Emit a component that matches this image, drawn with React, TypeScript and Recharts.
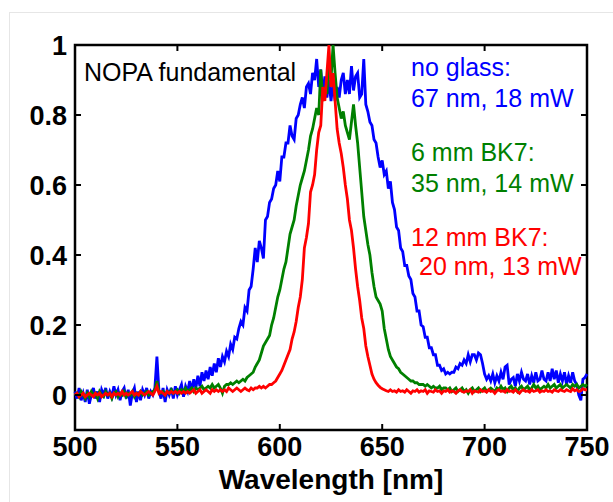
import { LineChart, Line, XAxis, YAxis, ReferenceArea } from "recharts";

// spectra sampled every 1 nm from 500 to 750 nm
const WL_START = 500;
const WL_END = 750;

// no glass: 67 nm, 18 mW
const noGlass = [
  0.01, -0.01, 0.02, -0.015, 0.005, -0.02, 0.015, -0.025, 0.0, 0.02,
  -0.01, 0.01, -0.02, 0.015, 0.0, 0.02, -0.01, 0.01, -0.005, 0.025,
  0.0, 0.015, -0.015, 0.01, 0.02, -0.01, 0.015, -0.03, 0.005, 0.02,
  -0.02, 0.01, -0.015, 0.015, 0.0, 0.02, -0.01, 0.01, 0.0, 0.02,
  0.11, 0.01, -0.01, 0.02, -0.02, 0.015, 0.0, 0.02, -0.01, 0.025,
  0.0, 0.015, 0.03, -0.005, 0.025, 0.01, 0.04, 0.01, 0.045, 0.02,
  0.055, 0.025, 0.065, 0.04, 0.07, 0.045, 0.08, 0.055, 0.09, 0.065,
  0.105, 0.08, 0.11, 0.095, 0.125, 0.11, 0.145, 0.13, 0.165, 0.16,
  0.19, 0.21, 0.2, 0.25, 0.24, 0.3, 0.31, 0.36, 0.42, 0.38,
  0.44, 0.42, 0.39, 0.5, 0.51, 0.55, 0.56, 0.59, 0.6, 0.64,
  0.61, 0.68, 0.68, 0.72, 0.72, 0.77, 0.74, 0.73, 0.79, 0.8,
  0.83, 0.85, 0.82, 0.88, 0.89, 0.86, 0.92, 0.9, 0.96, 0.88,
  0.93, 0.86, 0.91, 0.85, 0.9, 0.84, 0.89, 0.84, 0.88, 0.85,
  0.9, 0.92, 0.86, 0.9, 0.86, 0.94, 0.87, 0.91, 0.92, 0.85,
  0.86, 0.96, 0.83, 0.81, 0.78, 0.77, 0.73, 0.72, 0.68, 0.65,
  0.67, 0.63, 0.64, 0.59, 0.61, 0.55, 0.53, 0.48, 0.47, 0.42,
  0.41, 0.37, 0.37, 0.34, 0.33, 0.29, 0.28, 0.24, 0.24, 0.2,
  0.195, 0.165, 0.165, 0.135, 0.135, 0.115, 0.115, 0.085, 0.085, 0.07,
  0.075, 0.06, 0.065, 0.06, 0.065, 0.065, 0.08, 0.075, 0.09, 0.085,
  0.1, 0.09, 0.115, 0.095, 0.115, 0.115, 0.1, 0.12, 0.115, 0.09,
  0.06, 0.045, 0.055, 0.04, 0.06, 0.035, 0.055, 0.04, 0.065, 0.045,
  0.08, 0.085, 0.03, 0.045, 0.05, 0.025, 0.06, 0.04, 0.065, 0.045,
  0.04, 0.06, 0.03, 0.055, 0.035, 0.065, 0.04, 0.045, 0.07, 0.045,
  0.04, 0.065, 0.04, 0.075, 0.045, 0.07, 0.035, 0.06, 0.04, 0.065,
  0.03, 0.055, 0.035, 0.065, 0.04, 0.03, 0.0, -0.015, 0.045, 0.05,
  0.06,
];

// 6 mm BK7: 35 nm, 14 mW
const bk7_6mm = [
  0.0, 0.005, -0.005, 0.01, 0.0, -0.01, 0.005, -0.005, 0.01, 0.0,
  0.005, -0.01, 0.01, 0.0, -0.005, 0.01, 0.0, 0.005, -0.01, 0.005,
  0.01, -0.005, 0.005, 0.0, 0.01, -0.005, 0.005, 0.0, 0.01, -0.005,
  0.005, 0.0, 0.01, 0.0, 0.005, 0.01, 0.0, 0.005, 0.01, 0.015,
  0.04, 0.01, 0.005, 0.01, 0.0, 0.01, 0.005, 0.015, 0.005, 0.01,
  0.015, 0.005, 0.015, 0.01, 0.02, 0.01, 0.015, 0.02, 0.01, 0.02,
  0.015, 0.02, 0.025, 0.015, 0.02, 0.025, 0.02, 0.03, 0.02, 0.025,
  0.03, 0.02, 0.005, 0.025, 0.03, 0.03, 0.035, 0.03, 0.035, 0.04,
  0.035, 0.04, 0.045, 0.04, 0.05, 0.055, 0.06, 0.065, 0.08, 0.09,
  0.1, 0.12, 0.14, 0.15, 0.16, 0.17, 0.2, 0.22, 0.25, 0.28,
  0.3, 0.33, 0.36, 0.38, 0.42, 0.46, 0.48, 0.5, 0.54, 0.57,
  0.6, 0.62, 0.64, 0.67, 0.7, 0.74, 0.76, 0.79, 0.82, 0.8,
  0.93, 0.84, 0.88, 0.86, 0.95, 0.9, 1.0, 0.92, 0.85, 0.82,
  0.79, 0.81, 0.77, 0.75, 0.73, 0.78, 0.83, 0.77, 0.72, 0.65,
  0.58, 0.51, 0.47, 0.43, 0.4, 0.35, 0.31, 0.28, 0.27, 0.26,
  0.24, 0.19, 0.16, 0.13, 0.11, 0.1, 0.09, 0.08, 0.075, 0.065,
  0.06, 0.055, 0.05, 0.045, 0.04, 0.04, 0.035, 0.035, 0.03, 0.03,
  0.03, 0.025, 0.03, 0.025, 0.02, 0.025, 0.02, 0.02, 0.025, 0.015,
  0.02, 0.02, 0.015, 0.02, 0.01, 0.015, 0.02, 0.01, 0.015, 0.02,
  0.01, 0.015, 0.005, 0.015, 0.02, 0.01, 0.015, 0.02, 0.01, 0.015,
  0.02, 0.01, 0.015, 0.02, 0.015, 0.01, 0.02, 0.015, 0.025, 0.015,
  0.02, 0.01, 0.02, 0.025, 0.015, 0.02, 0.01, 0.02, 0.025, 0.015,
  0.02, 0.025, 0.015, 0.02, 0.03, 0.02, 0.025, 0.015, 0.02, 0.025,
  0.02, 0.03, 0.02, 0.025, 0.03, 0.02, 0.025, 0.03, 0.02, 0.025,
  0.03, 0.025, 0.02, 0.03, 0.025, 0.03, 0.02, 0.025, 0.03, 0.025,
  0.03,
];

// 12 mm BK7: 20 nm, 13 mW
const bk7_12mm = [
  0.0, 0.005, -0.005, 0.0, 0.005, -0.005, 0.0, 0.005, 0.0, -0.005,
  0.005, 0.0, 0.005, -0.005, 0.0, 0.005, 0.0, 0.005, -0.005, 0.005,
  0.0, 0.005, 0.0, 0.01, 0.0, 0.005, 0.0, 0.005, 0.01, 0.0,
  0.005, 0.0, 0.01, 0.005, 0.0, 0.005, 0.01, 0.005, 0.0, 0.01,
  0.025, 0.005, 0.01, 0.005, 0.0, 0.01, 0.005, 0.01, 0.005, 0.01,
  0.005, 0.01, 0.005, 0.01, 0.005, 0.01, 0.005, 0.01, 0.015, 0.005,
  0.01, 0.015, 0.005, 0.01, 0.015, 0.01, 0.005, 0.015, 0.01, 0.015,
  0.01, 0.015, 0.01, 0.015, 0.01, 0.02, 0.015, 0.01, 0.015, 0.02,
  0.015, 0.01, 0.015, 0.02, 0.015, 0.012, 0.02, 0.015, 0.02, 0.02,
  0.025, 0.02, 0.025, 0.02, 0.025, 0.03, 0.03, 0.035, 0.04, 0.05,
  0.06, 0.07, 0.085, 0.1, 0.115, 0.13, 0.16, 0.18, 0.21, 0.25,
  0.28, 0.33, 0.42, 0.45, 0.49, 0.58, 0.6, 0.63, 0.7, 0.75,
  0.77, 0.88, 0.84, 0.92, 1.0, 0.88, 0.92, 0.84, 0.76, 0.72,
  0.69, 0.65, 0.6, 0.56, 0.5, 0.47, 0.42, 0.36, 0.31, 0.27,
  0.22, 0.19, 0.14, 0.11, 0.085, 0.06, 0.045, 0.035, 0.028, 0.022,
  0.018, 0.015, 0.012, 0.01, 0.015, 0.01, 0.012, 0.008, 0.015, 0.01,
  0.012, 0.008, 0.015, 0.01, 0.005, 0.012, 0.01, 0.015, 0.008, 0.012,
  0.01, 0.015, 0.005, 0.012, 0.01, 0.008, 0.015, 0.01, 0.012, 0.005,
  0.012, 0.01, 0.015, 0.008, 0.012, 0.01, 0.005, 0.012, 0.015, 0.01,
  0.008, 0.012, 0.01, 0.015, 0.005, 0.012, 0.01, 0.008, 0.015, 0.01,
  0.012, 0.008, 0.015, 0.01, 0.012, 0.005, 0.012, 0.015, 0.01, 0.012,
  0.008, 0.015, 0.01, 0.012, 0.008, 0.015, 0.01, 0.005, 0.012, 0.015,
  0.01, 0.012, 0.008, 0.015, 0.01, 0.012, 0.015, 0.008, 0.012, 0.01,
  0.015, 0.01, 0.012, 0.008, 0.015, 0.012, 0.01, 0.015, 0.012, 0.01,
  0.015, 0.012, 0.01, 0.018, 0.012, 0.015, 0.01, 0.012, 0.018, 0.015,
  0.015,
];

const xTicks = [500, 550, 600, 650, 700, 750];
const yTicks = [0, 0.2, 0.4, 0.6, 0.8, 1];

const rows = noGlass.map((v, i) => ({
  wl: WL_START + i,
  noGlass: v,
  bk7_6mm: bk7_6mm[i],
  bk7_12mm: bk7_12mm[i],
}));

const W = 613;
const H = 502;
const PLOT_LEFT = 75;
const PLOT_RIGHT = 587;
const PLOT_TOP = 45;
const PLOT_BOTTOM = 430;
const TICK_LEN = 6;
const LINE_W = 2.8;
const FONT = "'Liberation Sans', Arial, Helvetica, sans-serif";

const BLUE = "#0000ff";
const GREEN = "#008000";
const RED = "#ff0000";

function XTick({ x, payload }: any) {
  return (
    <g>
      <line x1={x} x2={x} y1={PLOT_BOTTOM} y2={PLOT_BOTTOM - TICK_LEN} stroke="#000" strokeWidth={2} />
      <line x1={x} x2={x} y1={PLOT_TOP} y2={PLOT_TOP + TICK_LEN} stroke="#000" strokeWidth={2} />
      <text
        x={x}
        y={PLOT_BOTTOM + 26}
        textAnchor="middle"
        fontFamily={FONT}
        fontWeight="bold"
        fontSize={27}
        fill="#000"
      >
        {payload.value}
      </text>
    </g>
  );
}

function YTick({ y, payload }: any) {
  return (
    <g>
      <line x1={PLOT_LEFT} x2={PLOT_LEFT + TICK_LEN} y1={y} y2={y} stroke="#000" strokeWidth={2} />
      <line x1={PLOT_RIGHT} x2={PLOT_RIGHT - TICK_LEN} y1={y} y2={y} stroke="#000" strokeWidth={2} />
      <text
        x={PLOT_LEFT - 8}
        y={y + 9.5}
        textAnchor="end"
        fontFamily={FONT}
        fontWeight="bold"
        fontSize={27}
        fill="#000"
      >
        {payload.value}
      </text>
    </g>
  );
}

const notes = [
  { text: "NOPA fundamental", x: 84, y: 81, color: "#000" },
  { text: "no glass:", x: 411, y: 76, color: BLUE },
  { text: "67 nm, 18 mW", x: 411, y: 107, color: BLUE },
  { text: "6 mm BK7:", x: 411, y: 161, color: GREEN },
  { text: "35 nm, 14 mW", x: 411, y: 192, color: GREEN },
  { text: "12 mm BK7:", x: 411, y: 246, color: RED },
  { text: "20 nm, 13 mW", x: 419, y: 275, color: RED },
];

export default function App() {
  return (
    <div style={{ position: "absolute", left: 0, top: 0, width: W, height: H, background: "#fff" }}>
      <div
        style={{
          position: "absolute",
          left: 9,
          top: 12,
          width: W - 9,
          height: H - 12,
          borderTop: "1px solid #e6e6e6",
          borderLeft: "1px solid #e6e6e6",
          boxSizing: "border-box",
        }}
      />
      <div style={{ position: "absolute", left: 0, top: 0 }}>
        <LineChart
          width={W}
          height={H}
          data={rows}
          margin={{ top: PLOT_TOP, right: W - PLOT_RIGHT, bottom: H - PLOT_BOTTOM - 40, left: PLOT_LEFT - 60 }}
        >
          <XAxis
            dataKey="wl"
            type="number"
            domain={[WL_START, WL_END]}
            ticks={xTicks}
            interval={0}
            height={40}
            axisLine={false}
            tickLine={false}
            tick={(p: any) => <XTick {...p} />}
          />
          <YAxis
            type="number"
            domain={[-0.1, 1]}
            ticks={yTicks}
            interval={0}
            width={60}
            allowDataOverflow
            axisLine={false}
            tickLine={false}
            tick={(p: any) => <YTick {...p} />}
          />
          <Line dataKey="noGlass" stroke={BLUE} strokeWidth={LINE_W} dot={false} isAnimationActive={false} />
          <Line dataKey="bk7_6mm" stroke={GREEN} strokeWidth={LINE_W} dot={false} isAnimationActive={false} />
          <Line dataKey="bk7_12mm" stroke={RED} strokeWidth={LINE_W} dot={false} isAnimationActive={false} />
          <ReferenceArea
            x1={WL_START}
            x2={WL_END}
            y1={-0.1}
            y2={1}
            fill="none"
            stroke="#000"
            strokeWidth={2.5}
            ifOverflow="visible"
          />
        </LineChart>
      </div>
      <svg width={W} height={H} style={{ position: "absolute", left: 0, top: 0, pointerEvents: "none" }}>
        {notes.map((n) => (
          <text key={n.text} x={n.x} y={n.y} fontFamily={FONT} fontSize={25} fill={n.color}>
            {n.text}
          </text>
        ))}
        <text
          x={(PLOT_LEFT + PLOT_RIGHT) / 2}
          y={489}
          textAnchor="middle"
          fontFamily={FONT}
          fontWeight="bold"
          fontSize={28}
          fill="#000"
        >
          Wavelength [nm]
        </text>
      </svg>
    </div>
  );
}
